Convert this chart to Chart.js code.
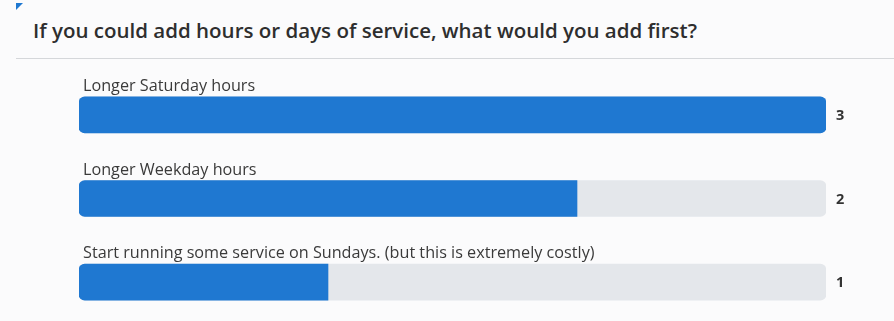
<!DOCTYPE html>
<html>
<head>
<meta charset="utf-8">
<script src="https://cdn.jsdelivr.net/npm/chart.js@4/dist/chart.umd.min.js"></script>
<style>
 html,body{margin:0;padding:0;background:#fbfbfc;overflow:hidden;}
 #wrap{position:relative;width:894px;height:321px;}
 #corner{position:absolute;left:16px;top:3px;width:0;height:0;border-top:7px solid #1f78d1;border-right:7px solid transparent;}
 #title{position:absolute;left:33px;top:16px;font:600 20.5px "Open Sans",sans-serif;color:#2e2e2e;white-space:nowrap;}
 #rule{position:absolute;left:16px;right:0;top:58px;border-top:1px solid #d5d7da;}
 #cv{position:absolute;left:0;top:0;}
</style>
</head>
<body>
<div id="wrap">
 <div id="corner"></div>
 <div id="title">If you could add hours or days of service, what would you add first?</div>
 <div id="rule"></div>
 <canvas id="cv" width="894" height="330"></canvas>
</div>
<script>
const categories=["Longer Saturday hours","Longer Weekday hours","Start running some service on Sundays. (but this is extremely costly)"];
const responses=[3,2,1];
const maxResponses=3;

const BLUE="#1f78d1",TRACK="#e4e7eb",R=6;
const full={topLeft:R,topRight:R,bottomLeft:R,bottomRight:R};

// labels above each bar, counts to the right of the track
const barText={
 id:"barText",
 afterDatasetsDraw(chart){
   const c=chart.ctx,meta=chart.getDatasetMeta(0),area=chart.chartArea;
   c.save();
   meta.data.forEach((bar,i)=>{
     const top=bar.y-bar.height/2;
     c.font="16.2px 'Open Sans', sans-serif";
     c.fillStyle="#3a3a3a";
     c.textBaseline="alphabetic";
     c.textAlign="left";
     c.fillText(categories[i],area.left+4,top-6);
     c.font="bold 14.5px 'Open Sans', sans-serif";
     c.fillStyle="#333";
     c.textBaseline="middle";
     c.fillText(String(responses[i]),area.right+10,bar.y+1);
   });
   c.restore();
 }
};

new Chart(document.getElementById("cv"),{
 type:"bar",
 data:{
   labels:categories,
   datasets:[
     {data:responses,backgroundColor:BLUE,borderSkipped:false,
      borderRadius:ctx=>ctx.raw>=maxResponses?full:{topLeft:R,bottomLeft:R,topRight:0,bottomRight:0}},
     {data:responses.map(()=>maxResponses),backgroundColor:TRACK,borderSkipped:false,borderRadius:full}
   ]
 },
 options:{
   indexAxis:"y",
   responsive:false,
   animation:false,
   datasets:{bar:{grouped:false,barThickness:36,borderWidth:0}},
   layout:{padding:{left:79,right:68,top:73,bottom:6}},
   scales:{
     x:{display:false,min:0,max:maxResponses},
     y:{display:false}
   },
   plugins:{legend:{display:false},tooltip:{enabled:false},title:{display:false}}
 },
 plugins:[barText]
});
</script>
</body>
</html>
